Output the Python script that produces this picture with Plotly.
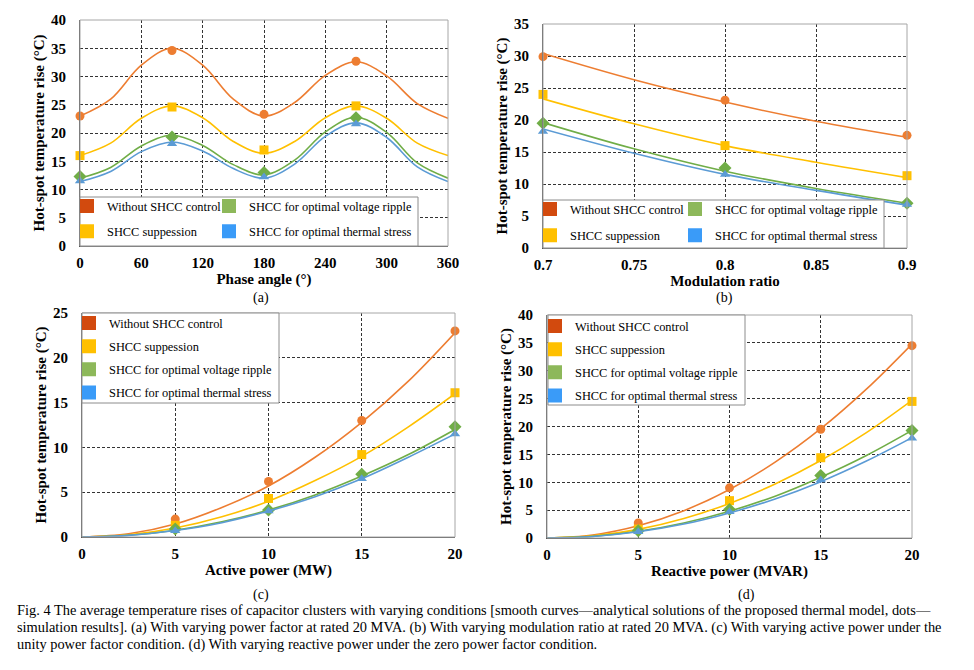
import plotly.graph_objects as go

W, H = 974, 670
# the page shows the figure 8px in from the top-left corner
OFFSET = 8

series_names = ["Without SHCC control", "SHCC suppession",
                "SHCC for optimal voltage ripple", "SHCC for optimal thermal stress"]
line_colors = ["#ED7D31", "#FFC000", "#70AD47", "#5B9BD5"]
swatch_colors = ["#D24A0E", "#FFC000", "#8DB85A", "#3A9BF8"]
symbols = ["circle", "square", "diamond", "triangle-up"]

# (a) phase angle
phase_curve_x = [0, 30, 60, 90, 120, 150, 180, 210, 240, 270, 300, 330, 360]
phase_curves = [
    [23.0, 26.0, 32.0, 35.0, 32.0, 26.0, 23.0, 25.4, 30.2, 32.6, 30.1, 25.2, 22.6],
    [16.0, 18.2, 22.6, 24.8, 22.7, 18.5, 16.4, 18.5, 22.7, 24.8, 22.6, 18.2, 16.0],
    [12.0, 13.9, 17.7, 19.6, 17.8, 14.4, 12.6, 15.2, 20.2, 22.8, 20.1, 14.7, 12.0],
    [11.4, 13.2, 16.7, 18.4, 16.8, 13.7, 12.0, 14.5, 19.4, 21.8, 19.2, 14.0, 11.4],
]
phase_dot_x = [0, 90, 180, 270]
phase_dots = [
    [23.0, 34.6, 23.3, 32.7],
    [16.0, 24.6, 17.0, 24.8],
    [12.3, 19.3, 13.0, 22.7],
    [11.5, 18.1, 12.2, 21.6],
]

# (b) modulation ratio
mod_curve_x = [0.70, 0.75, 0.80, 0.85, 0.90]
mod_curves = [
    [30.4, 26.3, 22.8, 19.8, 17.3],
    [23.3, 19.4, 16.0, 13.4, 11.0],
    [19.6, 15.5, 12.0, 9.3, 7.0],
    [18.6, 14.8, 11.5, 9.0, 6.7],
]
mod_dot_x = [0.7, 0.8, 0.9]
mod_dots = [
    [29.9, 23.1, 17.6],
    [24.0, 16.0, 11.3],
    [19.5, 12.5, 7.0],
    [18.2, 11.5, 6.8],
]

# (c) active power
p_curve_x = [0, 2.5, 5, 7.5, 10, 12.5, 15, 17.5, 20]
p_curves = [
    [0, 0.36, 1.45, 3.3, 5.7, 8.9, 12.8, 17.4, 22.8],
    [0, 0.25, 1.0, 2.25, 4.0, 6.3, 9.0, 12.3, 16.0],
    [0, 0.19, 0.76, 1.7, 3.0, 4.7, 6.8, 9.2, 12.0],
    [0, 0.18, 0.72, 1.6, 2.9, 4.5, 6.5, 8.9, 11.5],
]
p_dot_x = [5, 10, 15, 20]
p_dots = [
    [2.0, 6.2, 13.0, 23.0],
    [1.3, 4.3, 9.2, 16.1],
    [0.9, 3.0, 7.0, 12.3],
    [0.7, 2.9, 6.5, 11.5],
]

# (d) reactive power
q_curve_x = [0, 2.5, 5, 7.5, 10, 12.5, 15, 17.5, 20]
q_curves = [
    [0, 0.55, 2.2, 4.9, 8.7, 13.6, 19.6, 26.7, 34.8],
    [0, 0.39, 1.55, 3.5, 6.2, 9.7, 13.9, 18.9, 24.7],
    [0, 0.30, 1.2, 2.7, 4.8, 7.5, 10.9, 14.8, 19.3],
    [0, 0.28, 1.12, 2.5, 4.5, 7.0, 10.1, 13.8, 18.0],
]
q_dot_x = [5, 10, 15, 20]
q_dots = [
    [2.7, 9.0, 19.5, 34.5],
    [1.6, 6.7, 14.4, 24.5],
    [1.3, 5.1, 11.2, 19.3],
    [1.1, 4.7, 10.4, 17.9],
]

caption_lines = [
    "Fig. 4 The average temperature rises of capacitor clusters with varying conditions "
    "[smooth curves\u2014analytical solutions of the proposed thermal model, dots\u2014",
    "simulation results]. (a) With varying power factor at rated 20 MVA. (b) With varying "
    "modulation ratio at rated 20 MVA. (c) With varying active power under the",
    "unity power factor condition. (d) With varying reactive power under the zero power factor condition.",
]

SERIF = "Liberation Serif"


def px_x(v):
    return (v - OFFSET) / W


def px_y(v):
    return 1 - (v - OFFSET) / H


fig = go.Figure()

panels = [
    # axis suffix, box px (l, t, r, b), curve x, curves, dot x, dots, x range, dtick, y range, xtitle, label, label pos
    ("", (80, 20, 448, 246), phase_curve_x, phase_curves, phase_dot_x, phase_dots,
     [0, 360], 60, [0, 40], "Phase angle (\u00b0)", "(a)", (261, 298)),
    ("2", (543, 24, 907, 248), mod_curve_x, mod_curves, mod_dot_x, mod_dots,
     [0.7, 0.9], 0.05, [0, 35], "Modulation ratio", "(b)", (724, 298)),
    ("3", (82, 313, 455, 537), p_curve_x, p_curves, p_dot_x, p_dots,
     [0, 20], 5, [0, 25], "Active power (MW)", "(c)", (261, 595)),
    ("4", (547, 315, 912, 538), q_curve_x, q_curves, q_dot_x, q_dots,
     [0, 20], 5, [0, 40], "Reactive power (MVAR)", "(d)", (746, 595)),
]

axis_common = dict(
    showgrid=True, gridcolor="#333333", gridwidth=1, griddash="3px,2px",
    zeroline=False, showline=True, linecolor="#555555", linewidth=1,
    ticks="", tickfont=dict(family=SERIF, size=15, color="black", weight="bold"),
    title_font=dict(family=SERIF, size=15, color="black", weight="bold"),
    automargin=False,
)

for sfx, box, cx, curves, dx, dots, xr, dt, yr, xtitle, label, lpos in panels:
    l, t, r, b = box
    xa = "x" + sfx
    ya = "y" + sfx
    for i in range(4):
        fig.add_trace(go.Scatter(
            x=cx, y=curves[i], mode="lines", xaxis=xa, yaxis=ya,
            line=dict(color=line_colors[i], width=1.6, shape="spline", smoothing=1.0),
            showlegend=False, hoverinfo="skip", cliponaxis=True))
        fig.add_trace(go.Scatter(
            x=dx, y=dots[i], mode="markers", xaxis=xa, yaxis=ya,
            marker=dict(color=line_colors[i], symbol=symbols[i],
                        size=10 if symbols[i] == "diamond" else 9),
            showlegend=False, cliponaxis=False, name=series_names[i]))

    fig.update_layout({
        "xaxis" + sfx: dict(axis_common, domain=[px_x(l), px_x(r)], range=xr, dtick=dt,
                            anchor=ya, title_text=xtitle, title_standoff=0,
                            ticklabelstandoff=3),
        "yaxis" + sfx: dict(axis_common, domain=[px_y(b), px_y(t)], range=yr, dtick=5,
                            anchor=xa, title_text="Hot-spot temperature rise (\u00b0C)",
                            title_standoff=2, ticklabelstandoff=10),
    })
    # grey frame on top / right
    fig.add_shape(type="rect", xref=xa + " domain", yref=ya + " domain",
                  x0=0, x1=1, y0=0, y1=1, line=dict(color="#a6a6a6", width=1), layer="above")
    fig.add_annotation(x=px_x(lpos[0]), y=px_y(lpos[1]), xref="paper", yref="paper",
                       xanchor="center", yanchor="middle",
                       text=label, showarrow=False,
                       font=dict(family=SERIF, size=14, color="black"))

# legend boxes
legend_boxes = [
    (80, 197, 418, 246),
    (543, 200, 884, 248),
    (82, 313, 279, 403),
    (548, 315, 745, 405),
]
for l, t, r, b in legend_boxes:
    fig.add_shape(type="rect", xref="paper", yref="paper",
                  x0=px_x(l), x1=px_x(r), y0=px_y(b), y1=px_y(t),
                  fillcolor="white", line=dict(color="#8c8c8c", width=1), layer="above")

# legends: (name, left px, top px, item indexes, gap)
legend_specs = [
    ("legend", 67, 191.5, [0, 1], 6),
    ("legend2", 209, 191.5, [2, 3], 6),
    ("legend3", 530, 194.5, [0, 1], 7),
    ("legend4", 675, 194.5, [2, 3], 7),
    ("legend5", 69, 308.5, [0, 1, 2, 3], 4),
    ("legend6", 535, 311.5, [0, 1, 2, 3], 4),
]
for lg, lx, ly, items, gap in legend_specs:
    for i in items:
        fig.add_trace(go.Scatter(
            x=[None], y=[None], mode="markers", name=series_names[i],
            marker=dict(color=swatch_colors[i], symbol="square", size=14),
            legend=lg, legendgroup=lg + str(i), showlegend=True))
    fig.update_layout({lg: dict(
        x=px_x(lx), y=px_y(ly), xanchor="left", yanchor="top",
        bgcolor="rgba(0,0,0,0)", borderwidth=0, traceorder="grouped",
        tracegroupgap=gap, itemsizing="trace",
        font=dict(family=SERIF, size=12.4, color="black"))})

for k, line in enumerate(caption_lines):
    fig.add_annotation(x=px_x(15), y=px_y(610 + 17 * k), xref="paper", yref="paper",
                       xanchor="left", yanchor="middle", align="left", text=line,
                       showarrow=False, font=dict(family=SERIF, size=14.4, color="black"))

fig.update_layout(
    width=W, height=H, margin=dict(l=0, r=0, t=0, b=0, autoexpand=False),
    plot_bgcolor="white", paper_bgcolor="white",
    font=dict(family=SERIF, color="black"),
)

fig.write_html("out.html")
